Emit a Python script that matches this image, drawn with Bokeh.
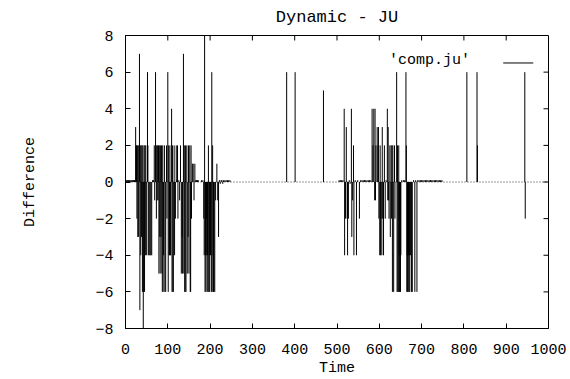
import math
from bokeh.plotting import figure
from bokeh.models import (Span, Legend, LegendItem, FixedTicker, Range1d,
                          ColumnDataSource)
from bokeh.embed import file_html
from bokeh.resources import INLINE

# ---- data (time, difference) ----
time = [1, 3, 5, 7, 9, 11, 13, 15, 17, 19, 21, 22,
        24, 25, 26, 27, 28, 29, 30, 31, 32, 33, 34, 35, 36, 37, 38, 39, 40,
        41, 42, 43, 44, 45, 46, 47, 48, 50, 52, 53, 54, 56, 58, 60, 62, 64,
        66, 68, 69, 71, 72, 73, 74, 75, 76, 77, 78, 79, 80, 81, 82, 83, 84,
        85, 86, 87, 88, 89, 90, 92, 93, 95, 97, 98, 100, 101, 102, 103, 104,
        105, 106, 107, 109, 110, 111, 112, 113, 115, 116, 118, 120, 121, 123,
        124, 126, 128, 130, 132, 134, 135, 137, 138, 139, 140, 141, 142, 143,
        145, 146, 148, 149, 150, 152, 153, 154, 155, 156, 158, 160, 162, 164,
        166, 168, 170, 172,
        180, 183, 185, 186, 187, 188, 189, 190, 191, 192, 193, 194, 195, 196,
        197, 198, 199, 201, 203, 204, 205, 206, 207, 208, 209, 211, 213, 216,
        218, 220, 222, 224, 226, 228, 230, 232, 235, 238, 241, 244, 247,
        381, 401, 468,
        505, 508, 511, 514, 517, 518, 520, 522, 524, 525, 527, 529, 531, 534,
        535, 537, 539, 540, 543, 546, 549, 553, 556, 559, 562, 565, 568, 571,
        574, 577, 580, 583, 585, 587, 589, 590, 591, 592, 595, 597, 598, 599,
        601, 602, 603, 604, 606, 607, 608, 610, 612, 614, 616, 619, 620, 621,
        622, 623, 625, 626, 628, 629, 630, 631, 632, 634, 636, 637, 641, 642,
        643, 644, 645, 646, 647, 648, 649, 650, 651, 653, 657, 660, 663, 664,
        665, 666, 667, 668, 669, 670, 671, 672, 674, 676, 678, 681, 684, 686,
        689, 691, 694, 697, 700, 703, 706, 709, 712, 715, 718, 721, 724, 727,
        730, 733, 736, 739, 742, 745, 748,
        807, 831, 832, 944, 945]

difference = [0.1, 0.1, 0.1, 0.1, 0.1, 0.1, 0.1, 0.1, 0.1, 0.1, 0.1, 0.1,
              3, 2, 2, -2, 2, -3, 2, -3, 2, 7, -7, 2, -4, 2, -3, 2, -6,
              2, -8, -6, 2, -6, 2, -4, 2, -4, 6, 2, -4, -4, -4, -4, -4, 0.1,
              0.1, 2, -1, 6, 2, -2, 2, -1, 2, -1, 2, -5, 2, -3, -5, 2, -3,
              2, -5, -6, 2, -6, -4, 2, -6, -6, 2, -2, 6, -6, 2, -4, -4,
              2, -4, -4, 4, -6, 2, -6, -6, 2, -4, -2, 2, 0.1, 2,
              -2, 0.1, -1, 2, -5, -3, -5, 7, -5, 2, -6, -6, 2, -6,
              2, -5, -3, 2, -5, 2, -6, -6, 2, -2, 1, 1, -1, 1,
              0.1, 0.1, 0.1, 0.1,
              0.1, 0.1, -2, -4, 8, -6, -4, -6, -4, -2, -6, -4, -6, 2,
              -6, -4, -6, -4, -6, 6, -6, 2, -4, -6, -6, -6, -1, 1,
              -1, -3, 0.1, -0.1, 0.1, 0.1, -0.1, 0.1, 0.1, 0.1, 0.1, 0.1, 0.1,
              6, 6, 5,
              0.1, 0.1, 0.1, 0.1, 4, -4, -2, 3, -2, -4, -2, 0.1, -0.1, 4,
              -3, -1, 2, -4, 0.1, -4, 0.1, -2, 0.1, 0.1, 0.1, 0.1, 0.1, 0.1,
              0.1, 0.1, 0.1, 4, 2, 4, -1, 4, -1, 2, 3, 2, 3, -2,
              -4, 2, -4, -2, -4, 3, -2, -4, 2, -2, 0.1, 4, -1, 3,
              -1, -2, 2, -3, 2, -2, 2, -6, 2, -6, 2, -2, 6, -6,
              2, -6, -6, 2, -4, -6, -6, -6, -4, 0.1, 0.1, 0.1, 6, 2,
              -6, -4, -6, -6, -4, -6, -4, -6, -4, -6, -6, 0.1, -6, 0.1,
              -6, 0.1, 0.1, 0.1, 0.1, 0.1, 0.1, 0.1, 0.1, 0.1, 0.1, 0.1, 0.1, 0.1,
              0.1, 0.1, 0.1, 0.1, 0.1, 0.1, 0.1,
              6, 6, 2, 6, -2]

x_ticks = [0, 100, 200, 300, 400, 500, 600, 700, 800, 900, 1000]
y_ticks = [-8, -6, -4, -2, 0, 2, 4, 6, 8]
series_name = "'comp.ju'"
chart_title = "Dynamic - JU"

FONT = "Liberation Mono"
FS = "15px"
X_MIN, X_MAX, Y_MIN, Y_MAX = 0, 1000, -8, 8

src = ColumnDataSource(data=dict(t=time, d=difference))

p = figure(width=570, height=379, output_backend="svg", toolbar_location=None,
           x_range=Range1d(X_MIN, X_MAX), y_range=Range1d(Y_MIN, Y_MAX),
           min_border_left=125, min_border_right=22,
           min_border_top=34, min_border_bottom=49,
           title=chart_title)

r = p.segment(x0="t", y0=0, x1="t", y1="d", source=src,
              line_color="black", line_width=1)

# dotted zero axis
p.add_layout(Span(location=0, dimension="width", line_color="black",
                  line_dash="1 2", line_width=1, line_alpha=0.8))

p.grid.visible = False
p.outline_line_color = "black"
p.outline_line_width = 1
p.background_fill_color = "white"
p.border_fill_color = "white"

p.title.align = "center"
p.title.vertical_align = "top"
p.title.text_font = FONT
p.title.text_font_size = "17px"
p.title.text_font_style = "normal"
p.title.text_color = "black"
p.title.standoff = 14

for ax, ticks in ((p.xaxis[0], x_ticks), (p.yaxis[0], y_ticks)):
    ax.ticker = FixedTicker(ticks=ticks)
    ax.major_tick_in = 5
    ax.major_tick_out = 0
    ax.minor_tick_in = 0
    ax.minor_tick_out = 0
    ax.axis_line_color = "black"
    ax.major_tick_line_color = "black"
    ax.major_label_text_font = FONT
    ax.major_label_text_font_size = FS
    ax.major_label_text_color = "black"
    ax.axis_label_text_font = FONT
    ax.axis_label_text_font_size = FS
    ax.axis_label_text_font_style = "normal"
    ax.axis_label_text_color = "black"

p.xaxis.axis_label = "Time"
p.xaxis.major_label_standoff = 15
p.xaxis.axis_label_standoff = 3
p.yaxis.axis_label = "Difference"
p.yaxis.major_label_standoff = 12
p.yaxis.axis_label_standoff = 53

# mirrored inward ticks on the top and right edges (from the tick arrays)
p.ray(x=x_ticks, y=Y_MAX, length=5, length_units="screen",
      angle=-math.pi / 2, line_color="black", line_width=1)
p.ray(x=X_MAX, y=y_ticks, length=5, length_units="screen",
      angle=math.pi, line_color="black", line_width=1)

# key, gnuplot style: label text, then the line sample to its right
KEY_X, KEY_Y = 893, 6.5
legend = Legend(items=[LegendItem(label=series_name, renderers=[r])],
                location=(264, 258), glyph_width=0, glyph_height=20,
                label_standoff=0, padding=0, margin=0, spacing=0,
                border_line_color=None, background_fill_alpha=0,
                label_text_font=FONT, label_text_font_size=FS,
                label_text_color="black", label_text_baseline="middle")
p.add_layout(legend, "center")
p.ray(x=KEY_X, y=KEY_Y, length=30, length_units="screen", angle=0,
      line_color="black", line_width=1)

open("out.html", "w").write(file_html(p, INLINE))
